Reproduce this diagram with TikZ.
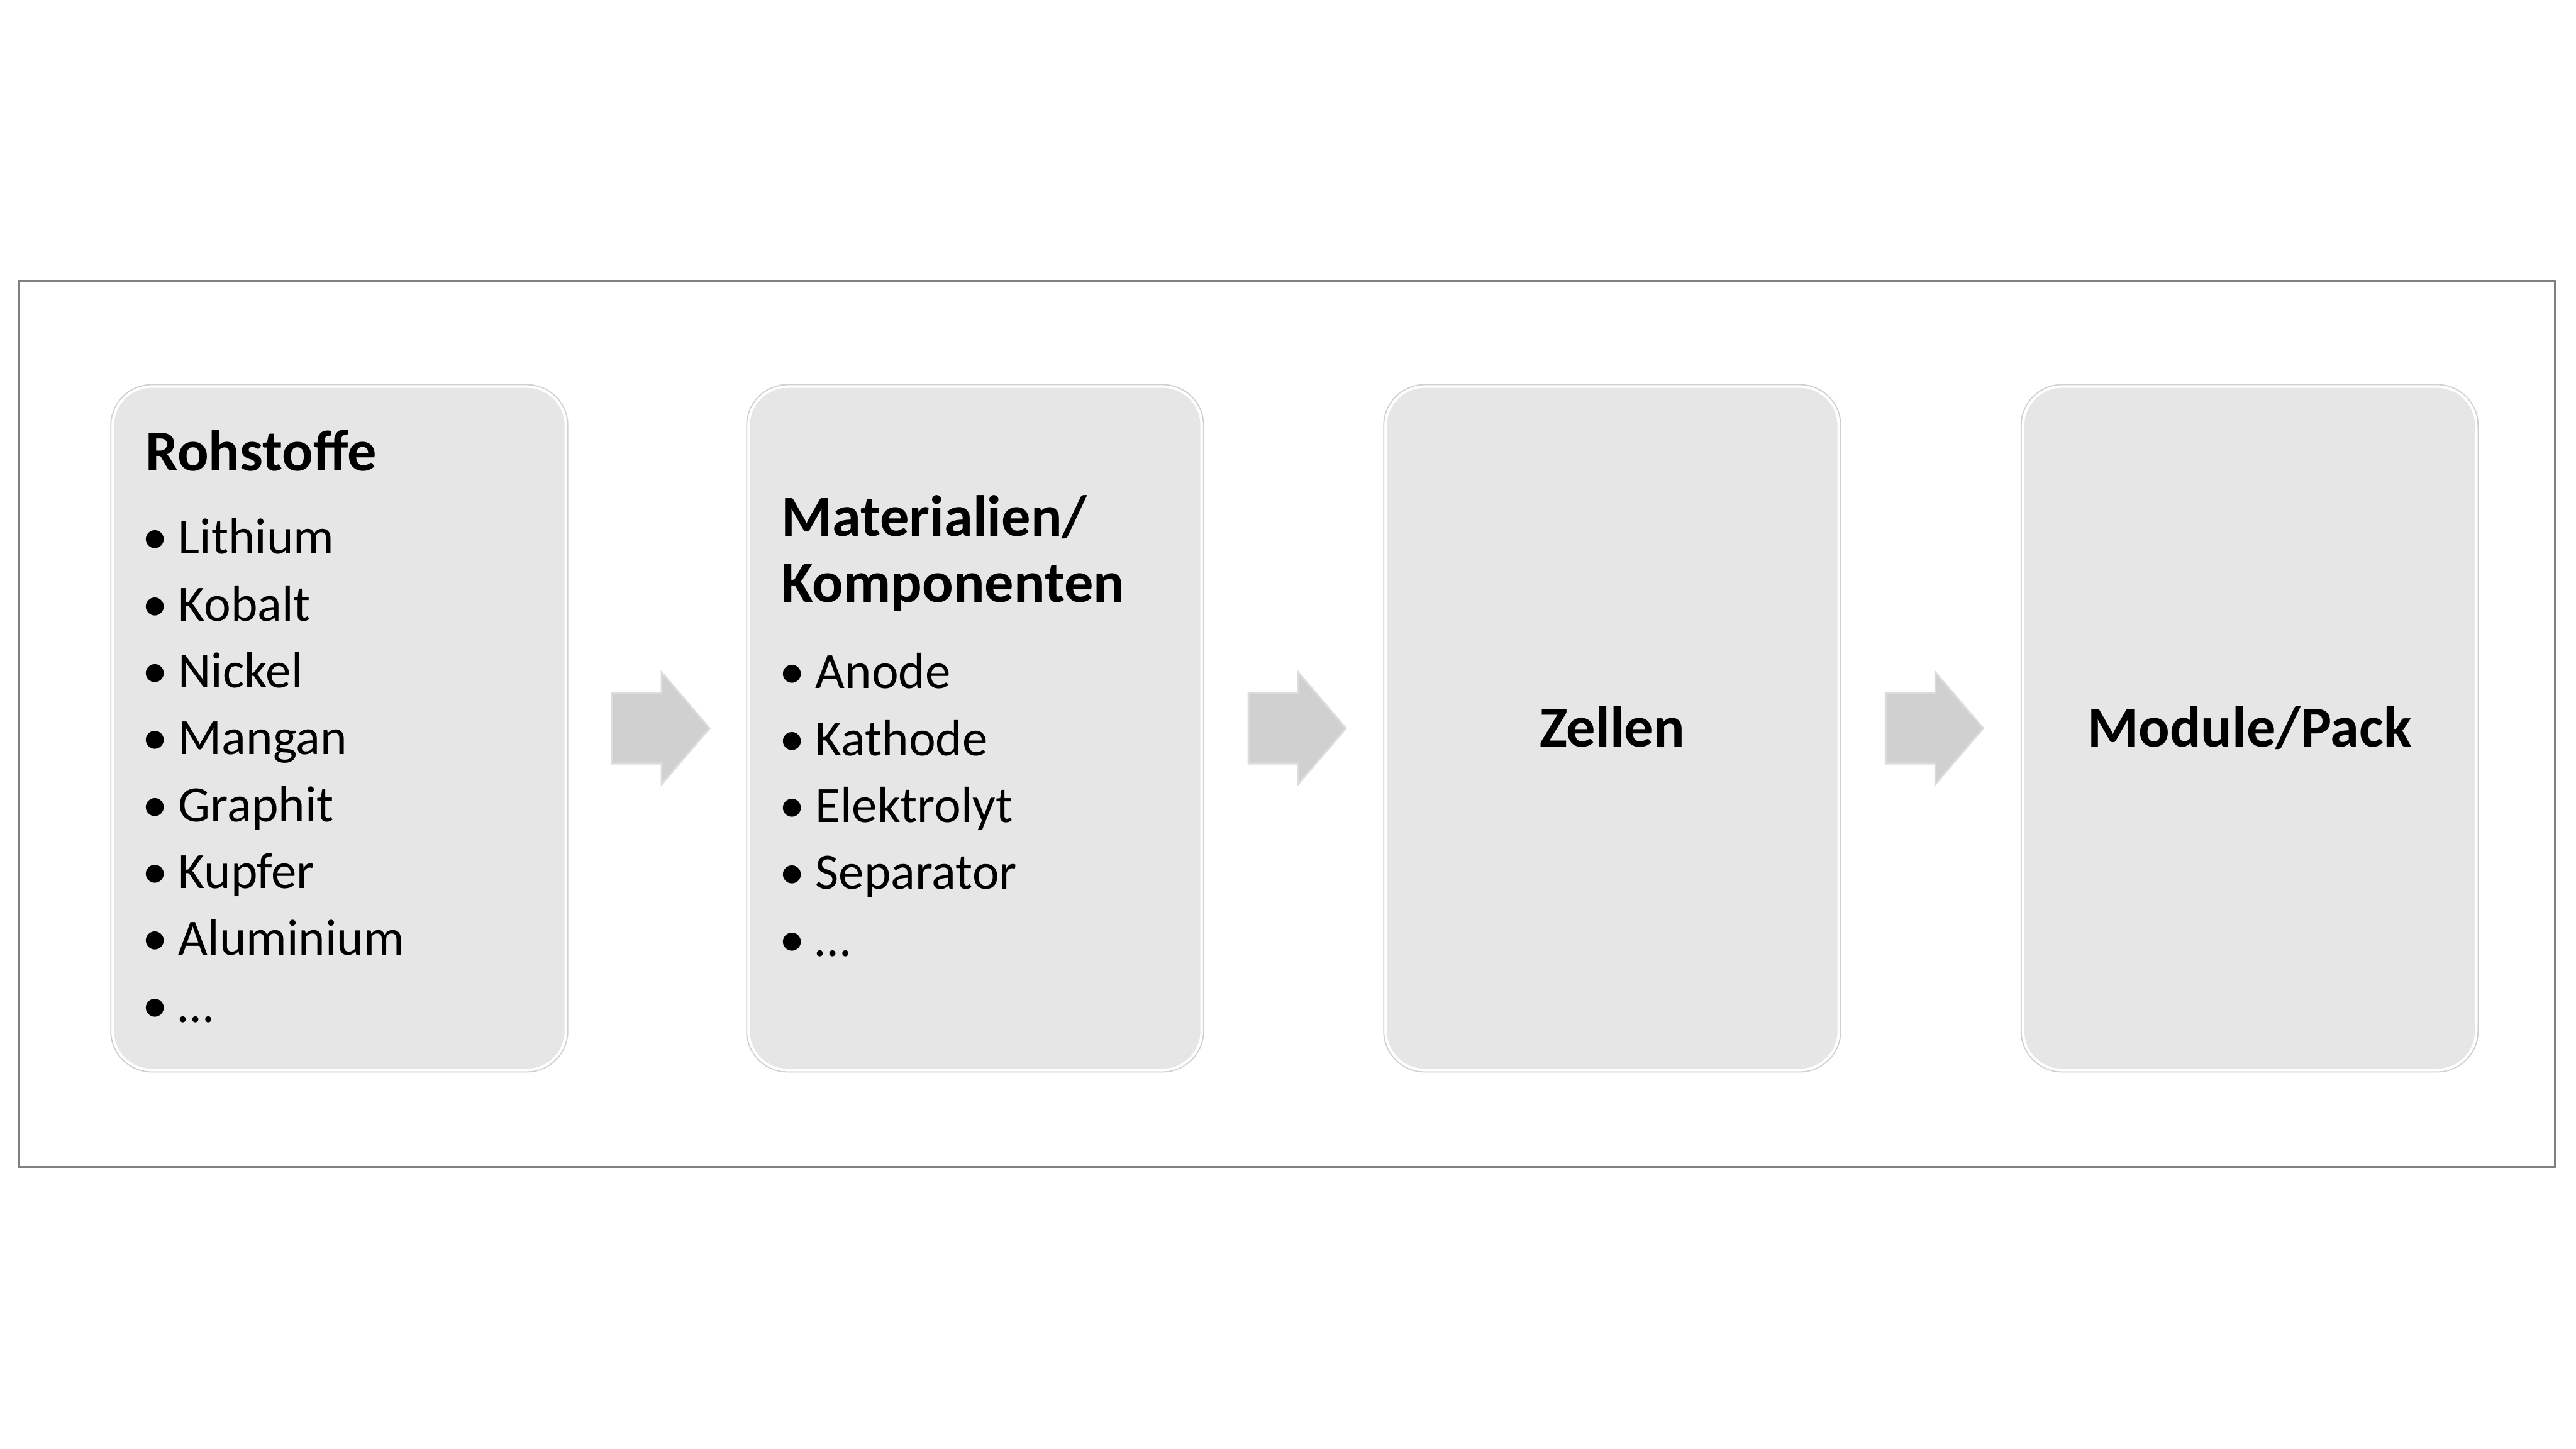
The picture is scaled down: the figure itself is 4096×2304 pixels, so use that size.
\documentclass[tikz,border=0pt]{standalone}
\usepackage{fontspec}
\setmainfont{Carlito}
\usetikzlibrary{calc}
\definecolor{boxfill}{HTML}{E7E6E6}
\definecolor{boxedge}{HTML}{D0D0D0}
\definecolor{framegray}{HTML}{808080}
\definecolor{arrowfill}{HTML}{D0D0D0}
\definecolor{arrowedge}{HTML}{DCDCDC}
\tikzset{
  stagebox/.style={rectangle, rounded corners=0.62cm, fill=boxfill, draw=white, line width=0.04cm,
    minimum width=7.2cm, minimum height=10.86cm, inner sep=0pt, outer sep=0pt},
  stageshadow/.style={rectangle, rounded corners=0.65cm, draw=boxedge, line width=0.02cm,
    minimum width=7.26cm, minimum height=10.92cm, inner sep=0pt},
  titletext/.style={anchor=base west, inner sep=0pt, font=\fontsize{26.3}{31}\selectfont\bfseries},
  centertitle/.style={anchor=base, inner sep=0pt, font=\fontsize{26.3}{31}\selectfont\bfseries},
  itemtext/.style={anchor=base west, inner sep=0pt, font=\fontsize{23}{27}\selectfont},
  blockarrow/.style={fill=arrowfill, draw=arrowedge, line width=0.03cm, line join=miter},
}
\newcommand{\bul}{\makebox[0.57cm][l]{•}}
\begin{document}
\begin{tikzpicture}[x=0.01cm,y=-0.01cm]
\useasboundingbox (0,0) rectangle (4096,2304);
\fill[white] (0,0) rectangle (4096,2304);
% outer frame
\node[draw=framegray, line width=0.03cm, rectangle, minimum width=40.3cm, minimum height=14.08cm,
  inner sep=0pt] (frame) at (2046.5,1151) {};
% stage boxes
\foreach \n/\x in {1/539.5, 2/1550.5, 3/2563.5, 4/3577}{
  \node[stageshadow] (s\n) at (\x,1158) {};
  \node[stagebox] (b\n) at (\x,1158) {};
}
% arrows between boxes
\foreach \a/\b/\k in {b1/b2/1, b2/b3/2, b3/b4/3}{
  \coordinate (m\k) at ($(\a.east)!0.5!(\b.west)+(5,0)$);
  \draw[blockarrow, shift={(m\k)}] (-77,-56) -- (2,-56) -- (2,-89) -- (78,0) -- (2,89) -- (2,56) -- (-77,56) -- cycle;
}
% box 1
\node[titletext] (t1) at (231,749) {Rohstoffe};
\foreach \t [count=\i from 0] in {Lithium,Kobalt,Nickel,Mangan,Graphit,Kupfer,Aluminium,…}
  \node[itemtext] (r\i) at (226,881+106.3*\i) {\bul\t};
% box 2
\node[titletext] (t2a) at (1242,853) {Materialien/};
\node[titletext] (t2b) at (1242,958) {Komponenten};
\foreach \t [count=\i from 0] in {Anode,Kathode,Elektrolyt,Separator,…}
  \node[itemtext] (k\i) at (1239,1095+106.3*\i) {\bul\t};
% box 3 and 4
\node[centertitle] (t3) at (b3.center |- 0,1188) {Zellen};
\node[centertitle] (t4) at (b4.center |- 0,1188) {Module/Pack};
\end{tikzpicture}
\end{document}
